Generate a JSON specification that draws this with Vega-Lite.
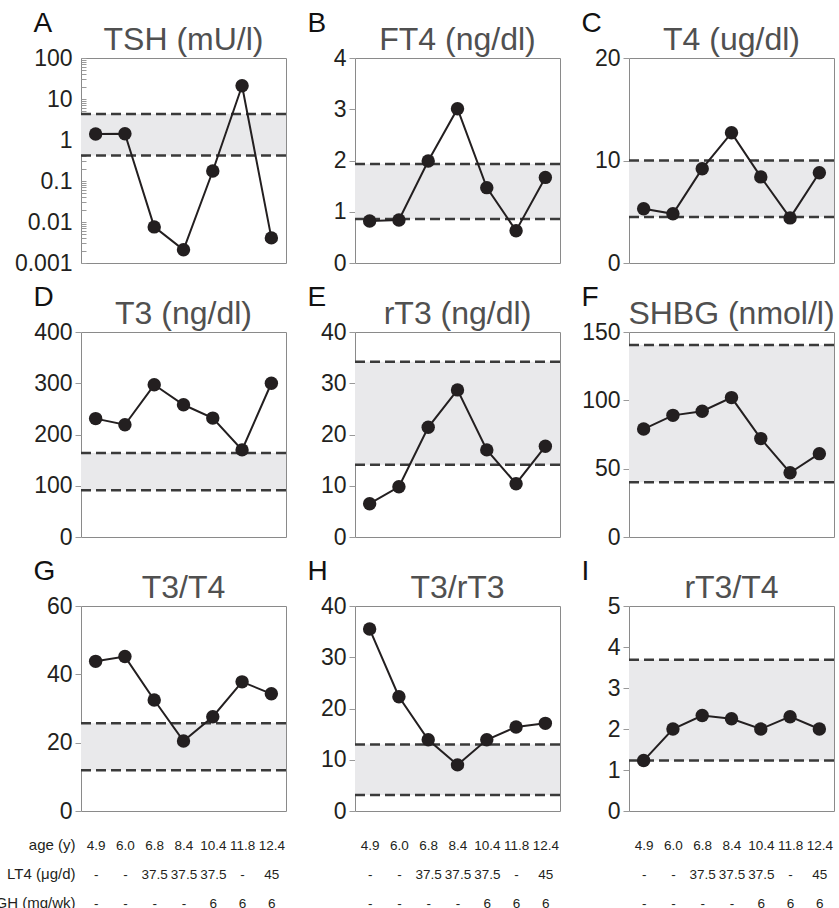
{
"$schema":"https://vega.github.io/schema/vega-lite/v6.json",
"padding":{"left":-6,"top":8,"right":0,"bottom":0},
"datasets":{
"pts":[
{"panel":"A","col":"4.9|-|-","v":1.4},{"panel":"A","col":"6.0|-|-","v":1.42},{"panel":"A","col":"6.8|37.5|-","v":0.0076},{"panel":"A","col":"8.4|37.5|-","v":0.0021},{"panel":"A","col":"10.4|37.5|6","v":0.175},{"panel":"A","col":"11.8|-|6","v":21},{"panel":"A","col":"12.4|45|6","v":0.0041},
{"panel":"B","col":"4.9|-|-","v":0.82},{"panel":"B","col":"6.0|-|-","v":0.84},{"panel":"B","col":"6.8|37.5|-","v":1.99},{"panel":"B","col":"8.4|37.5|-","v":3.01},{"panel":"B","col":"10.4|37.5|6","v":1.47},{"panel":"B","col":"11.8|-|6","v":0.63},{"panel":"B","col":"12.4|45|6","v":1.67},
{"panel":"C","col":"4.9|-|-","v":5.3},{"panel":"C","col":"6.0|-|-","v":4.8},{"panel":"C","col":"6.8|37.5|-","v":9.2},{"panel":"C","col":"8.4|37.5|-","v":12.7},{"panel":"C","col":"10.4|37.5|6","v":8.4},{"panel":"C","col":"11.8|-|6","v":4.4},{"panel":"C","col":"12.4|45|6","v":8.8},
{"panel":"D","col":"4.9|-|-","v":231},{"panel":"D","col":"6.0|-|-","v":219},{"panel":"D","col":"6.8|37.5|-","v":297},{"panel":"D","col":"8.4|37.5|-","v":258},{"panel":"D","col":"10.4|37.5|6","v":232},{"panel":"D","col":"11.8|-|6","v":170},{"panel":"D","col":"12.4|45|6","v":300},
{"panel":"E","col":"4.9|-|-","v":6.5},{"panel":"E","col":"6.0|-|-","v":9.8},{"panel":"E","col":"6.8|37.5|-","v":21.4},{"panel":"E","col":"8.4|37.5|-","v":28.7},{"panel":"E","col":"10.4|37.5|6","v":17.0},{"panel":"E","col":"11.8|-|6","v":10.4},{"panel":"E","col":"12.4|45|6","v":17.7},
{"panel":"F","col":"4.9|-|-","v":79},{"panel":"F","col":"6.0|-|-","v":89},{"panel":"F","col":"6.8|37.5|-","v":92},{"panel":"F","col":"8.4|37.5|-","v":102},{"panel":"F","col":"10.4|37.5|6","v":72},{"panel":"F","col":"11.8|-|6","v":47},{"panel":"F","col":"12.4|45|6","v":61},
{"panel":"G","col":"4.9|-|-","v":43.8},{"panel":"G","col":"6.0|-|-","v":45.2},{"panel":"G","col":"6.8|37.5|-","v":32.5},{"panel":"G","col":"8.4|37.5|-","v":20.5},{"panel":"G","col":"10.4|37.5|6","v":27.6},{"panel":"G","col":"11.8|-|6","v":37.8},{"panel":"G","col":"12.4|45|6","v":34.3},
{"panel":"H","col":"4.9|-|-","v":35.5},{"panel":"H","col":"6.0|-|-","v":22.3},{"panel":"H","col":"6.8|37.5|-","v":13.9},{"panel":"H","col":"8.4|37.5|-","v":9.0},{"panel":"H","col":"10.4|37.5|6","v":13.9},{"panel":"H","col":"11.8|-|6","v":16.4},{"panel":"H","col":"12.4|45|6","v":17.1},
{"panel":"I","col":"4.9|-|-","v":1.23},{"panel":"I","col":"6.0|-|-","v":2.0},{"panel":"I","col":"6.8|37.5|-","v":2.33},{"panel":"I","col":"8.4|37.5|-","v":2.25},{"panel":"I","col":"10.4|37.5|6","v":2.0},{"panel":"I","col":"11.8|-|6","v":2.3},{"panel":"I","col":"12.4|45|6","v":2.0}
],
"bands":[
{"panel":"A","lo":0.42,"hi":4.3},{"panel":"B","lo":0.86,"hi":1.93},{"panel":"C","lo":4.5,"hi":10},
{"panel":"D","lo":91,"hi":164},{"panel":"E","lo":14.1,"hi":34.2},{"panel":"F","lo":40,"hi":140.5},
{"panel":"G","lo":11.9,"hi":25.7},{"panel":"H","lo":3.1,"hi":13.0},{"panel":"I","lo":1.23,"hi":3.69}
]},
"columns":3,
"spacing":{"row":69,"column":69},
"bounds":"flush",
"concat":[
{"width":205,"height":205,"title":"TSH (mU/l)","layer":[
 {"data":{"name":"bands"},"transform":[{"filter":"datum.panel=='A'"}],"mark":{"type":"rect","fill":"#e9e9eb"},"encoding":{"y":{"field":"lo","type":"quantitative","scale":{"type":"log","domain":[0.001,100],"nice":false},"axis":{"title":"A","values":[0.001,0.002,0.003,0.004,0.005,0.006,0.007,0.008,0.009,0.01,0.02,0.03,0.04,0.05,0.06,0.07,0.08,0.09,0.1,0.2,0.3,0.4,0.5,0.6,0.7,0.8,0.9,1,2,3,4,5,6,7,8,9,10,20,30,40,50,60,70,80,90,100],"labelExpr":"indexof([0.001,0.01,0.1,1,10,100], datum.value) >= 0 ? format(datum.value,'~g') : ''","tickSize":-5,"labelPadding":14,"labelOverlap":false}},"y2":{"field":"hi"}}},
 {"data":{"name":"bands"},"transform":[{"filter":"datum.panel=='A'"},{"fold":["lo","hi"],"as":["k","val"]}],"mark":{"type":"rule","strokeDash":[10,5],"strokeWidth":2.5,"color":"#3a3a3a"},"encoding":{"y":{"field":"val","type":"quantitative"}}},
 {"data":{"name":"pts"},"transform":[{"filter":"datum.panel=='A'"}],"mark":{"type":"line","color":"#231f20","strokeWidth":2,"point":{"filled":true,"size":180,"opacity":1,"color":"#231f20"}},"encoding":{"x":{"field":"col","type":"ordinal","sort":null,"axis":null},"y":{"field":"v","type":"quantitative"}}}
]},
{"width":205,"height":205,"title":"FT4 (ng/dl)","layer":[
 {"data":{"name":"bands"},"transform":[{"filter":"datum.panel=='B'"}],"mark":{"type":"rect","fill":"#e9e9eb"},"encoding":{"y":{"field":"lo","type":"quantitative","scale":{"domain":[0,4],"nice":false},"axis":{"title":"B","values":[0,1,2,3,4],"format":"d"}},"y2":{"field":"hi"}}},
 {"data":{"name":"bands"},"transform":[{"filter":"datum.panel=='B'"},{"fold":["lo","hi"],"as":["k","val"]}],"mark":{"type":"rule","strokeDash":[10,5],"strokeWidth":2.5,"color":"#3a3a3a"},"encoding":{"y":{"field":"val","type":"quantitative"}}},
 {"data":{"name":"pts"},"transform":[{"filter":"datum.panel=='B'"}],"mark":{"type":"line","color":"#231f20","strokeWidth":2,"point":{"filled":true,"size":180,"opacity":1,"color":"#231f20"}},"encoding":{"x":{"field":"col","type":"ordinal","sort":null,"axis":null},"y":{"field":"v","type":"quantitative"}}}
]},
{"width":205,"height":205,"title":"T4 (ug/dl)","layer":[
 {"data":{"name":"bands"},"transform":[{"filter":"datum.panel=='C'"}],"mark":{"type":"rect","fill":"#e9e9eb"},"encoding":{"y":{"field":"lo","type":"quantitative","scale":{"domain":[0,20],"nice":false},"axis":{"title":"C","values":[0,10,20],"format":"d"}},"y2":{"field":"hi"}}},
 {"data":{"name":"bands"},"transform":[{"filter":"datum.panel=='C'"},{"fold":["lo","hi"],"as":["k","val"]}],"mark":{"type":"rule","strokeDash":[10,5],"strokeWidth":2.5,"color":"#3a3a3a"},"encoding":{"y":{"field":"val","type":"quantitative"}}},
 {"data":{"name":"pts"},"transform":[{"filter":"datum.panel=='C'"}],"mark":{"type":"line","color":"#231f20","strokeWidth":2,"point":{"filled":true,"size":180,"opacity":1,"color":"#231f20"}},"encoding":{"x":{"field":"col","type":"ordinal","sort":null,"axis":null},"y":{"field":"v","type":"quantitative"}}}
]},
{"width":205,"height":205,"title":"T3 (ng/dl)","layer":[
 {"data":{"name":"bands"},"transform":[{"filter":"datum.panel=='D'"}],"mark":{"type":"rect","fill":"#e9e9eb"},"encoding":{"y":{"field":"lo","type":"quantitative","scale":{"domain":[0,400],"nice":false},"axis":{"title":"D","values":[0,100,200,300,400],"format":"d"}},"y2":{"field":"hi"}}},
 {"data":{"name":"bands"},"transform":[{"filter":"datum.panel=='D'"},{"fold":["lo","hi"],"as":["k","val"]}],"mark":{"type":"rule","strokeDash":[10,5],"strokeWidth":2.5,"color":"#3a3a3a"},"encoding":{"y":{"field":"val","type":"quantitative"}}},
 {"data":{"name":"pts"},"transform":[{"filter":"datum.panel=='D'"}],"mark":{"type":"line","color":"#231f20","strokeWidth":2,"point":{"filled":true,"size":180,"opacity":1,"color":"#231f20"}},"encoding":{"x":{"field":"col","type":"ordinal","sort":null,"axis":null},"y":{"field":"v","type":"quantitative"}}}
]},
{"width":205,"height":205,"title":"rT3 (ng/dl)","layer":[
 {"data":{"name":"bands"},"transform":[{"filter":"datum.panel=='E'"}],"mark":{"type":"rect","fill":"#e9e9eb"},"encoding":{"y":{"field":"lo","type":"quantitative","scale":{"domain":[0,40],"nice":false},"axis":{"title":"E","values":[0,10,20,30,40],"format":"d"}},"y2":{"field":"hi"}}},
 {"data":{"name":"bands"},"transform":[{"filter":"datum.panel=='E'"},{"fold":["lo","hi"],"as":["k","val"]}],"mark":{"type":"rule","strokeDash":[10,5],"strokeWidth":2.5,"color":"#3a3a3a"},"encoding":{"y":{"field":"val","type":"quantitative"}}},
 {"data":{"name":"pts"},"transform":[{"filter":"datum.panel=='E'"}],"mark":{"type":"line","color":"#231f20","strokeWidth":2,"point":{"filled":true,"size":180,"opacity":1,"color":"#231f20"}},"encoding":{"x":{"field":"col","type":"ordinal","sort":null,"axis":null},"y":{"field":"v","type":"quantitative"}}}
]},
{"width":205,"height":205,"title":"SHBG (nmol/l)","layer":[
 {"data":{"name":"bands"},"transform":[{"filter":"datum.panel=='F'"}],"mark":{"type":"rect","fill":"#e9e9eb"},"encoding":{"y":{"field":"lo","type":"quantitative","scale":{"domain":[0,150],"nice":false},"axis":{"title":"F","values":[0,50,100,150],"format":"d"}},"y2":{"field":"hi"}}},
 {"data":{"name":"bands"},"transform":[{"filter":"datum.panel=='F'"},{"fold":["lo","hi"],"as":["k","val"]}],"mark":{"type":"rule","strokeDash":[10,5],"strokeWidth":2.5,"color":"#3a3a3a"},"encoding":{"y":{"field":"val","type":"quantitative"}}},
 {"data":{"name":"pts"},"transform":[{"filter":"datum.panel=='F'"}],"mark":{"type":"line","color":"#231f20","strokeWidth":2,"point":{"filled":true,"size":180,"opacity":1,"color":"#231f20"}},"encoding":{"x":{"field":"col","type":"ordinal","sort":null,"axis":null},"y":{"field":"v","type":"quantitative"}}}
]},
{"width":205,"height":205,"title":"T3/T4","layer":[
 {"data":{"name":"bands"},"transform":[{"filter":"datum.panel=='G'"}],"mark":{"type":"rect","fill":"#e9e9eb"},"encoding":{"y":{"field":"lo","type":"quantitative","scale":{"domain":[0,60],"nice":false},"axis":{"title":"G","values":[0,20,40,60],"format":"d"}},"y2":{"field":"hi"}}},
 {"data":{"name":"bands"},"transform":[{"filter":"datum.panel=='G'"},{"fold":["lo","hi"],"as":["k","val"]}],"mark":{"type":"rule","strokeDash":[10,5],"strokeWidth":2.5,"color":"#3a3a3a"},"encoding":{"y":{"field":"val","type":"quantitative"}}},
 {"data":{"name":"pts"},"transform":[{"filter":"datum.panel=='G'"}],"mark":{"type":"line","color":"#231f20","strokeWidth":2,"point":{"filled":true,"size":180,"opacity":1,"color":"#231f20"}},"encoding":{"x":{"field":"col","type":"ordinal","sort":null,"axis":{"labelExpr":"split(datum.label,'|')","title":["age (y)","LT4 (μg/d)","GH (mg/wk)"],"titleX":-6,"titleY":38,"titleAlign":"right","titleAnchor":null}},"y":{"field":"v","type":"quantitative"}}}
]},
{"width":205,"height":205,"title":"T3/rT3","layer":[
 {"data":{"name":"bands"},"transform":[{"filter":"datum.panel=='H'"}],"mark":{"type":"rect","fill":"#e9e9eb"},"encoding":{"y":{"field":"lo","type":"quantitative","scale":{"domain":[0,40],"nice":false},"axis":{"title":"H","values":[0,10,20,30,40],"format":"d"}},"y2":{"field":"hi"}}},
 {"data":{"name":"bands"},"transform":[{"filter":"datum.panel=='H'"},{"fold":["lo","hi"],"as":["k","val"]}],"mark":{"type":"rule","strokeDash":[10,5],"strokeWidth":2.5,"color":"#3a3a3a"},"encoding":{"y":{"field":"val","type":"quantitative"}}},
 {"data":{"name":"pts"},"transform":[{"filter":"datum.panel=='H'"}],"mark":{"type":"line","color":"#231f20","strokeWidth":2,"point":{"filled":true,"size":180,"opacity":1,"color":"#231f20"}},"encoding":{"x":{"field":"col","type":"ordinal","sort":null,"axis":{"labelExpr":"split(datum.label,'|')","title":null}},"y":{"field":"v","type":"quantitative"}}}
]},
{"width":205,"height":205,"title":"rT3/T4","layer":[
 {"data":{"name":"bands"},"transform":[{"filter":"datum.panel=='I'"}],"mark":{"type":"rect","fill":"#e9e9eb"},"encoding":{"y":{"field":"lo","type":"quantitative","scale":{"domain":[0,5],"nice":false},"axis":{"title":"I","values":[0,1,2,3,4,5],"format":"d"}},"y2":{"field":"hi"}}},
 {"data":{"name":"bands"},"transform":[{"filter":"datum.panel=='I'"},{"fold":["lo","hi"],"as":["k","val"]}],"mark":{"type":"rule","strokeDash":[10,5],"strokeWidth":2.5,"color":"#3a3a3a"},"encoding":{"y":{"field":"val","type":"quantitative"}}},
 {"data":{"name":"pts"},"transform":[{"filter":"datum.panel=='I'"}],"mark":{"type":"line","color":"#231f20","strokeWidth":2,"point":{"filled":true,"size":180,"opacity":1,"color":"#231f20"}},"encoding":{"x":{"field":"col","type":"ordinal","sort":null,"axis":{"labelExpr":"split(datum.label,'|')","title":null}},"y":{"field":"v","type":"quantitative"}}}
]}
],
"config":{
 "font":"Liberation Sans",
 "view":{"stroke":"#8a8a8a","strokeWidth":1},
 "axis":{"grid":false,"domain":false,"labelFont":"Liberation Sans","titleFont":"Liberation Sans"},
 "axisY":{"labelFontSize":23,"labelColor":"#231f20","tickColor":"#999999","tickSize":6,"labelPadding":3,"titleAngle":0,"titleX":-48,"titleY":-27,"titleAlign":"left","titleBaseline":"alphabetic","titleFontSize":28,"titleFontWeight":"normal","titleColor":"#111111","labelOverlap":false},
 "axisX":{"labelAngle":0,"ticks":false,"labelPadding":38,"labelBaseline":"alphabetic","labelLineHeight":29,"labelFontSize":13.5,"labelColor":"#231f20","labelOverlap":false,"titleFontSize":15,"titleFontWeight":"normal","titleColor":"#231f20","titleBaseline":"alphabetic","titleLineHeight":29,"titleAngle":0},
 "title":{"fontSize":32,"font":"Liberation Sans","fontWeight":"normal","color":"#505050","offset":4,"dy":52}
}
}
